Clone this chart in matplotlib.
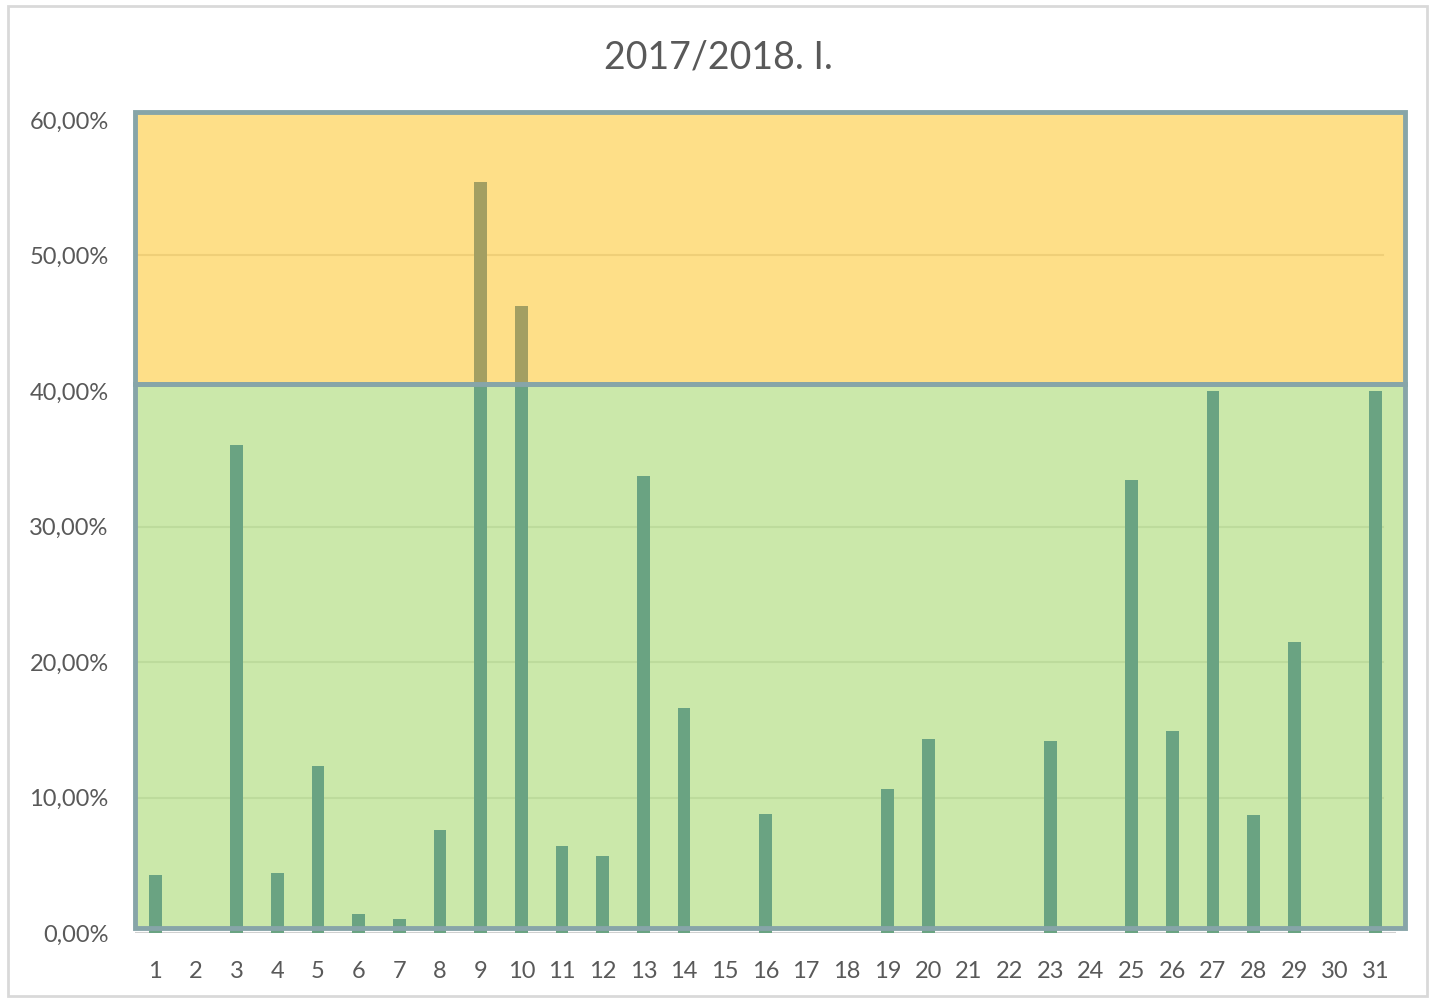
import numpy as np
import matplotlib
matplotlib.use('Agg')
import matplotlib.pyplot as plt
from matplotlib.patches import Rectangle
from matplotlib.ticker import FuncFormatter

# Data (percent per day)
days = list(range(1, 32))
values = [4.3, 0, 36.0, 4.4, 12.3, 1.4, 1.0, 7.6, 55.4, 46.3,
          6.4, 5.7, 33.7, 16.6, 0, 8.8, 0, 0, 10.6, 14.3,
          0, 0, 14.2, 0, 33.4, 14.9, 40.0, 8.7, 21.5, 0, 40.0]
y_ticks = [0, 10, 20, 30, 40, 50, 60]
threshold = 40.0
title = '2017/2018. I.'

plt.rcParams['font.family'] = ['Lato', 'DejaVu Sans']

fig = plt.figure(figsize=(14.31, 10.01), dpi=100)
fig.patch.set_facecolor('white')

# outer chart frame
fig.add_artist(Rectangle((8 / 1431, 5 / 1001), 1419 / 1431, 990 / 1001,
                         transform=fig.transFigure, fill=False,
                         edgecolor='#d9d9d9', linewidth=2))

ax = fig.add_axes([135 / 1431, 1 - 933 / 1001, 1261 / 1431, 813 / 1001])
ax.set_facecolor('white')
ax.set_xlim(0.5, 31.5)
ax.set_ylim(0, 60)

x = np.array(days)
v = np.array(values)

# zone backgrounds
ax.add_patch(Rectangle((0.5, 0.37), 31.23, threshold + 0.5 - 0.37, facecolor='#cbe8aa',
                       edgecolor='none', zorder=0, clip_on=False))
ax.add_patch(Rectangle((0.5, threshold + 0.5), 31.23, 20.1, facecolor='#fedf88',
                       edgecolor='none', zorder=0, clip_on=False))

# gridlines
for t in y_ticks:
    if t in (0, 40, 60):
        continue
    c = '#efcf78' if t > threshold else '#bddb9c'
    ax.axhline(t, xmin=0, xmax=0.99, color=c, linewidth=1.5, zorder=1)
ax.axhline(0, color='#d0d0d0', linewidth=1.5, zorder=1)

# bars
ax.bar(x, v, width=0.31, color='#5b8fd4', zorder=2)
ax.bar(x, np.minimum(v, threshold + 0.5), width=0.31, color='#6aa382', zorder=3)
ax.bar(x, np.maximum(v - threshold - 0.5, 0), bottom=threshold + 0.5, width=0.31,
       color='#a39f62', zorder=3)

# zone borders
ax.add_patch(Rectangle((0.5, 0.37), 31.23, threshold + 0.5 - 0.37, fill=False,
                       edgecolor='#87a5a8', linewidth=3.5, zorder=4, clip_on=False))
ax.add_patch(Rectangle((0.5, threshold + 0.5), 31.23, 20.1, fill=False,
                       edgecolor='#87a5a8', linewidth=3.5, zorder=4, clip_on=False))

for s in ax.spines.values():
    s.set_visible(False)

ax.set_xticks(days)
ax.set_xticklabels([str(d) for d in days])
ax.set_yticks(y_ticks)
ax.yaxis.set_major_formatter(FuncFormatter(lambda val, pos: ('%.2f%%' % val).replace('.', ',')))
ax.tick_params(axis='both', length=0, labelsize=17, colors='#595959')
ax.tick_params(axis='y', pad=19)
ax.tick_params(axis='x', pad=20)

fig.text(0.502, 1 - 57 / 1001, title, ha='center', va='center', fontsize=27, color='#595959')

fig.savefig('out.png', dpi=100)
